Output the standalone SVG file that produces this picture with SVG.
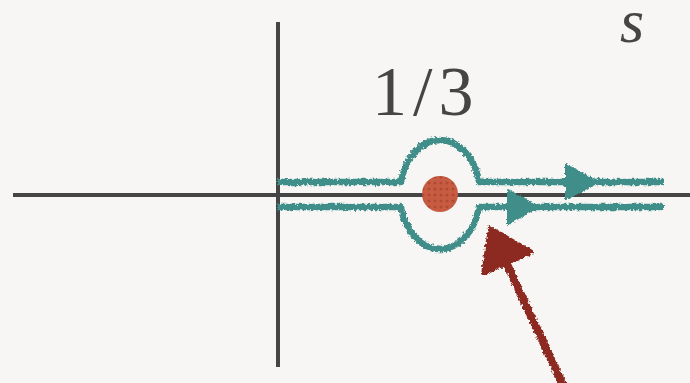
<svg xmlns="http://www.w3.org/2000/svg" width="690" height="383" viewBox="0 0 690 383">
<defs>
<style>
.axis{stroke:#454545;stroke-width:4;fill:none;stroke-linecap:butt}
.contour{stroke:#418e89;stroke-width:6.5;fill:none;stroke-linejoin:round}
.thead{fill:#418e89;stroke:#418e89;stroke-width:2;stroke-linejoin:round}
.red{stroke:#8c2b23;stroke-width:8;fill:none;stroke-linecap:round}
.rhead{fill:#8c2b23;stroke:#8c2b23;stroke-width:4;stroke-linejoin:round}
.lbl{font-family:"Liberation Serif","DejaVu Serif",serif;fill:#454545}
</style>
<filter id="rough" x="-10%" y="-10%" width="120%" height="120%">
<feTurbulence type="fractalNoise" baseFrequency="0.4" numOctaves="2" seed="3" result="n"/>
<feDisplacementMap in="SourceGraphic" in2="n" scale="5" xChannelSelector="R" yChannelSelector="G"/>
</filter>
<pattern id="dots" width="6" height="6" patternUnits="userSpaceOnUse">
<rect width="6" height="6" fill="#c85c42"/>
<circle cx="3" cy="3" r="1.6" fill="#b04a34"/>
</pattern>
</defs>
<rect width="690" height="383" fill="#f7f6f4"/>
<g id="axes">
<line class="axis" x1="13" y1="195" x2="690" y2="195"/>
<line class="axis" x1="278" y1="22" x2="278" y2="367"/>
</g>
<g id="connectors">
<g id="contour" filter="url(#rough)">
<path class="contour" d="M277,182 H401 A40,54 0 0 1 479,182 H664"/>
<path class="contour" d="M277,207 H401 A40,54 0 0 0 479,207 H664"/>
<polygon class="thead" points="566,165 598,182 566,199"/>
<polygon class="thead" points="508,190 538,207 508,224"/>
</g>
<g id="pointer" filter="url(#rough)">
<line class="red" x1="562" y1="383" x2="506" y2="262"/>
<polygon class="rhead" points="490,228 532,252 483,274"/>
</g>
</g>
<g id="pole">
<circle cx="440" cy="194" r="18" fill="url(#dots)"/>
</g>
<g id="label-third">
<text class="lbl" x="372" y="115" font-size="70" letter-spacing="6">1/3</text>
</g>
<g id="label-s">
<text class="lbl" x="620" y="42" font-size="62" font-style="italic">s</text>
</g>
</svg>
